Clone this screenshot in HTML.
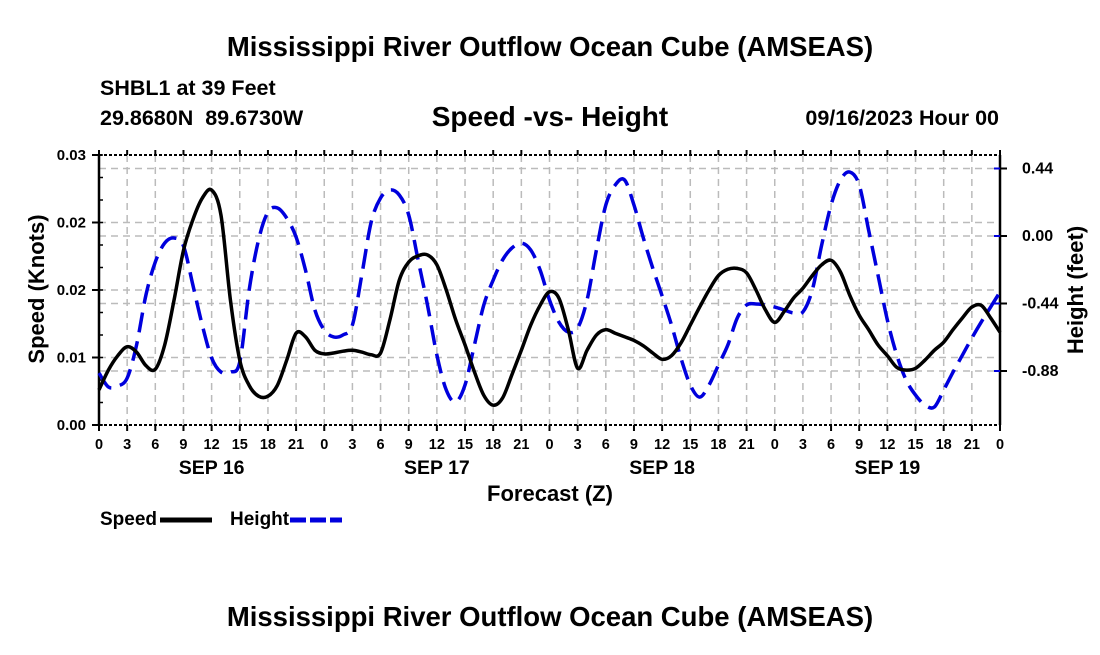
<!DOCTYPE html>
<html><head><meta charset="utf-8"><style>
body{margin:0;background:#fff;width:1100px;height:650px;overflow:hidden}
svg{font-family:"Liberation Sans",sans-serif;font-weight:bold}
</style></head><body>
<svg id="c" width="1100" height="650">
<text x="550" y="56" font-size="27.5" text-anchor="middle">Mississippi River Outflow Ocean Cube (AMSEAS)</text>
<text x="100" y="95" font-size="21.5">SHBL1 at 39 Feet</text>
<text x="100" y="125" font-size="21.5" xml:space="preserve" style="white-space:pre">29.8680N  89.6730W</text>
<text x="550" y="126" font-size="28" text-anchor="middle">Speed -vs- Height</text>
<text x="999" y="125" font-size="21.5" text-anchor="end">09/16/2023 Hour 00</text>
<text x="550" y="501" font-size="22" text-anchor="middle">Forecast (Z)</text>
<text transform="translate(44,289) rotate(-90)" font-size="22" text-anchor="middle">Speed (Knots)</text>
<text transform="translate(1083,290) rotate(-90)" font-size="22" text-anchor="middle">Height (feet)</text>
<g>
<text x="100" y="525" font-size="19">Speed</text>
<line x1="160" y1="520" x2="212" y2="520" stroke="#000" stroke-width="5"/>
<text x="230" y="525" font-size="19">Height</text>
<line x1="290" y1="520" x2="342" y2="520" stroke="#0000dd" stroke-width="5" stroke-dasharray="16,4"/>
</g>
<text x="550" y="626" font-size="27.5" text-anchor="middle">Mississippi River Outflow Ocean Cube (AMSEAS)</text>
<g id="plot"></g>
</svg>
<script>
const hours=[];for(let i=0;i<=96;i++)hours.push(i);
const speed=[.0039,.0061,.0077,.0087,.0081,.0066,.0062,.0089,.0139,.0194,.0228,.0252,.0261,.0233,.0139,.0072,.0044,.0032,.0032,.0044,.0072,.0102,.0098,.0083,.0079,.008,.0082,.0083,.0081,.0078,.008,.0117,.0161,.0181,.0188,.0189,.0178,.015,.0117,.0089,.0059,.0033,.0022,.003,.0056,.0083,.0111,.0133,.0148,.0141,.0106,.0063,.0083,.01,.0106,.0102,.0098,.0094,.0088,.008,.0073,.0077,.0091,.0111,.0131,.015,.0166,.0173,.0174,.0169,.015,.0128,.0114,.0126,.0141,.0152,.0166,.0178,.0183,.017,.0144,.0122,.0106,.0089,.0077,.0064,.0061,.0063,.0072,.0083,.0092,.0106,.0119,.0131,.0133,.0119,.0103];
const height=[-.893,-.984,-.978,-.926,-.711,-.385,-.169,-.046,-.013,-.065,-.319,-.58,-.795,-.887,-.887,-.821,-.352,-.026,.156,.183,.117,-.007,-.222,-.482,-.613,-.658,-.645,-.58,-.254,.091,.248,.3,.267,.137,-.156,-.45,-.776,-1.004,-1.082,-.971,-.711,-.45,-.287,-.156,-.078,-.046,-.091,-.222,-.417,-.561,-.626,-.6,-.417,-.091,.202,.332,.365,.202,-.013,-.209,-.391,-.58,-.795,-.971,-1.05,-.971,-.841,-.711,-.535,-.45,-.443,-.45,-.463,-.482,-.502,-.495,-.352,-.059,.202,.365,.417,.332,.039,-.254,-.548,-.776,-.939,-1.037,-1.102,-1.115,-1.004,-.887,-.776,-.665,-.561,-.463,-.365];
const leftTicks=[0,0.0075,0.015,0.0225,0.03];
const leftLabels=["0.00","0.01","0.02","0.02","0.03"];
const rightTicks=[0.44,0,-0.44,-0.88];
const rightLabels=["0.44","0.00","-0.44","-0.88"];
const dayLabels=["SEP 16","SEP 17","SEP 18","SEP 19"];
const X0=99,X1=1000,Y0=155,Y1=425;
const xs=h=>X0+h/96*(X1-X0);
const ys=v=>Y1-v/0.03*(Y1-Y0);
const hy=h=>236-h/0.44*67.5;
const NS="http://www.w3.org/2000/svg",g=document.getElementById('plot');
function mk(t,a){const e=document.createElementNS(NS,t);for(const k in a)e.setAttribute(k,a[k]);g.appendChild(e);return e;}
for(let h=3;h<96;h+=3){const e=mk('line',{x1:xs(h),x2:xs(h),y1:Y0,y2:Y1,stroke:'#bbb','stroke-width':1.5,'stroke-dasharray':'7,5'});

}
leftTicks.slice(1,4).forEach(v=>{const e=mk('line',{x1:X0,x2:X1,y1:ys(v),y2:ys(v),stroke:'#bbb','stroke-width':1.5,'stroke-dasharray':'7,5'});

});
rightTicks.forEach(v=>{const e=mk('line',{x1:X0,x2:X1,y1:hy(v),y2:hy(v),stroke:'#bbb','stroke-width':1.5,'stroke-dasharray':'7,5'});

});
[[X0,Y0,X0,Y1],[X1,Y0,X1,Y1]].forEach(a=>{const e=mk('line',{x1:a[0],y1:a[1],x2:a[2],y2:a[3],stroke:'#000','stroke-width':2.5});

});
[Y0,Y1].forEach(y=>{const e=mk('line',{x1:X0,x2:X1,y1:y,y2:y,stroke:'#000','stroke-width':2,'stroke-dasharray':'3,2'});

});
for(let h=0;h<=96;h+=3){
 const x=xs(h);
 mk('line',{x1:x,x2:x,y1:Y1,y2:Y1+6,stroke:'#000','stroke-width':2});
 mk('line',{x1:x,x2:x,y1:Y0,y2:Y0-5,stroke:'#000','stroke-width':2});
 const t=mk('text',{x:x,y:449,'font-size':14.5,'text-anchor':'middle'});t.textContent=String(h%24);
 
 
}
dayLabels.forEach((d,i)=>{const t=mk('text',{x:xs(i*24+12),y:474,'font-size':19.5,'text-anchor':'middle'});t.textContent=d;

});
leftTicks.forEach((v,i)=>{mk('line',{x1:X0-7,x2:X0,y1:ys(v),y2:ys(v),stroke:'#000','stroke-width':2});
const t=mk('text',{x:X0-13,y:ys(v)+5,'font-size':15,'text-anchor':'end'});t.textContent=leftLabels[i];

});
for(let v=0;v<=0.03;v+=0.0025){mk('line',{x1:X0,x2:X0+4,y1:ys(v),y2:ys(v),stroke:'#000','stroke-width':1.5});}
rightTicks.forEach((v,i)=>{mk('line',{x1:X1,x2:X1+7,y1:hy(v),y2:hy(v),stroke:'#000','stroke-width':2});
mk('line',{x1:X1-6,x2:X1,y1:hy(v),y2:hy(v),stroke:'#00d','stroke-width':2});
const t=mk('text',{x:X1+22,y:hy(v)+5,'font-size':16});t.textContent=rightLabels[i];

});
function smooth(p){let d=`M${p[0][0]},${p[0][1]}`;for(let i=0;i<p.length-1;i++){const a=p[Math.max(0,i-1)],b=p[i],c=p[i+1],e=p[Math.min(p.length-1,i+2)];
d+=` C${b[0]+(c[0]-a[0])/6},${b[1]+(c[1]-a[1])/6} ${c[0]-(e[0]-b[0])/6},${c[1]-(e[1]-b[1])/6} ${c[0]},${c[1]}`;}return d;}
const hl=mk('path',{d:smooth(hours.map((h,i)=>[xs(h),hy(height[i])])),fill:'none',stroke:'#0000dd','stroke-width':3.5,'stroke-dasharray':'20,9'});


const sl=mk('path',{d:smooth(hours.map((h,i)=>[xs(h),ys(speed[i])])),fill:'none',stroke:'#000','stroke-width':3.5});


</script>
</body></html>
